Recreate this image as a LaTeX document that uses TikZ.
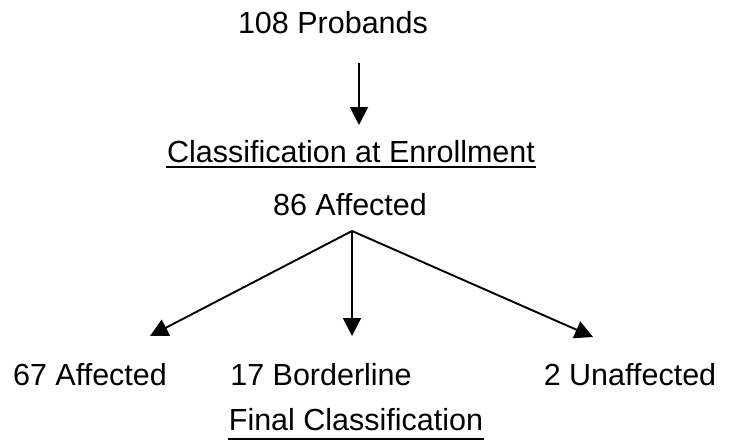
\documentclass[tikz,border=0pt]{standalone}
\usepackage{fontspec}
\setmainfont{Liberation Sans}
\usetikzlibrary{arrows.meta}
\begin{document}
\begin{tikzpicture}[x=1pt, y=-1pt, >={Triangle[width=18pt, length=18pt]}, line width=1.9pt,
    lbl/.style={font=\fontsize{30.5}{36}\selectfont, inner sep=0pt, anchor=base},
    uline/.style={line width=2pt}]
    \useasboundingbox (0, 0) rectangle (735, 445);

    % top part
    \node[lbl] (probands) at (333, 33) {108 Probands};
    \coordinate (from1) at (359, 63);
    \coordinate (to1) at (359, 125);
    \draw[->] (from1) -- (to1);

    \node[lbl] (enroll) at (351, 162) {Classification at Enrollment};
    \draw[uline] ([yshift=-5pt]enroll.base west) -- ([yshift=-5pt]enroll.base east);
    \node[lbl] (aff86) at (350, 215) {86 Affected};

    % branches
    \coordinate (split) at (352, 231);
    \coordinate (tipA) at (150, 336);
    \coordinate (tipB) at (352, 336);
    \coordinate (tipC) at (593, 337);
    \draw[->] (split) -- (tipA);
    \draw[->] (split) -- (tipB);
    \draw[->] (split) -- (tipC);

    % final classes
    \node[lbl] (aff67) at (90, 385) {67 Affected};
    \node[lbl] (border) at (321, 385) {17 Borderline};
    \node[lbl] (unaff) at (630, 385) {2 Unaffected};

    \node[lbl] (final) at (356, 430) {Final Classification};
    \draw[uline] ([yshift=-9pt]final.base west) -- ([yshift=-9pt]final.base east);
\end{tikzpicture}
\end{document}
